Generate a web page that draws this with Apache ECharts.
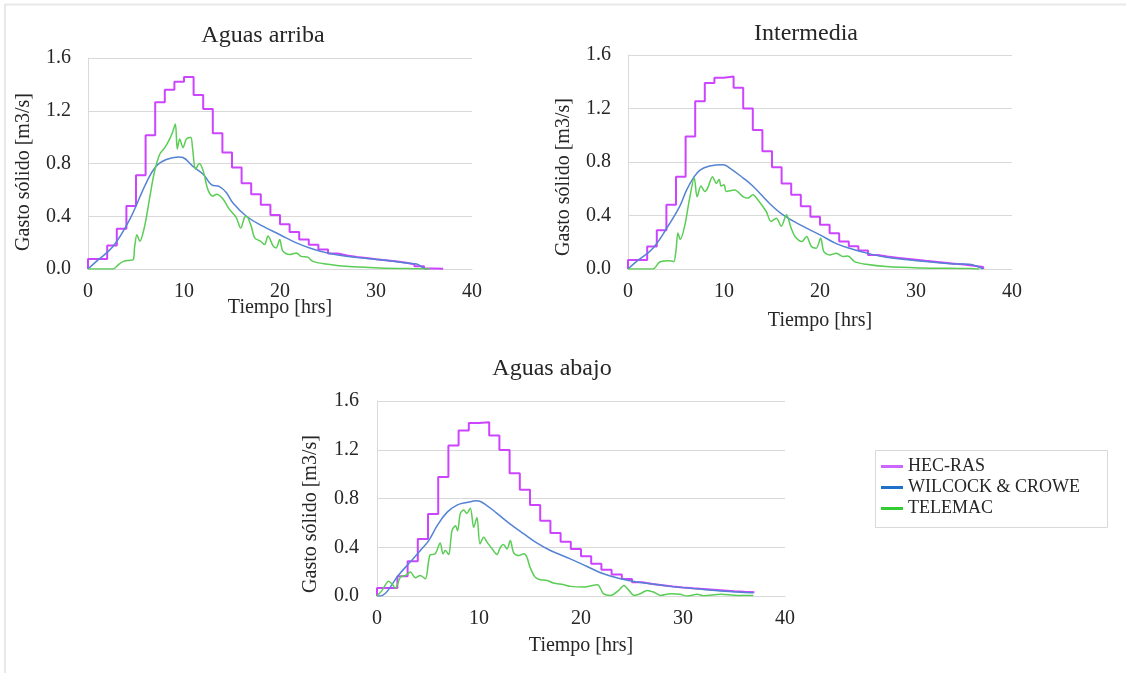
<!DOCTYPE html>
<html>
<head>
<meta charset="utf-8">
<script src="https://cdn.jsdelivr.net/npm/echarts@6/dist/echarts.min.js"></script>
<style>
html,body{margin:0;padding:0;background:#fff;}
#c{width:1126px;height:673px;}
</style>
</head>
<body>
<div id="c"></div>
<script>
// ---------- DATA ----------
const titles = ['Aguas arriba', 'Intermedia', 'Aguas abajo'];
const seriesNames = ['HEC-RAS', 'WILCOCK & CROWE', 'TELEMAC'];
const xTicks = [0, 10, 20, 30, 40];
const yTicks = [0.0, 0.4, 0.8, 1.2, 1.6];

// HEC-RAS (stepped, value held from t to next t)
const hecArribaT = [0,0,2,3,4,5,6,7,8,9,10,11,12,13,14,15,16,17,18,19,20,21,22,23,24,25,26,27,28,29,30,31,32,33,34,35,36,37];
const hecArribaQ = [0,0.076,0.178,0.305,0.477,0.71,1.015,1.264,1.36,1.42,1.455,1.32,1.213,1.03,0.883,0.77,0.65,0.566,0.487,0.41,0.34,0.28,0.223,0.183,0.147,0.117,0.102,0.092,0.083,0.074,0.066,0.058,0.05,0.036,0.02,0.004,0.001,0];
const hecInterT = [0,0,2,3,4,5,6,7,8,9,10,11,12,13,14,15,16,17,18,19,20,21,22,23,24,25,26,27,28,29,30,31,32,33,34,35,36,37];
const hecInterQ = [0,0.068,0.168,0.29,0.48,0.69,0.99,1.255,1.39,1.43,1.44,1.355,1.2,1.04,0.88,0.76,0.64,0.555,0.47,0.39,0.33,0.268,0.205,0.17,0.138,0.105,0.093,0.085,0.077,0.069,0.061,0.054,0.047,0.04,0.033,0.025,0.015,0];
const hecAbajoT = [0,0,2,3,4,5,6,7,8,9,10,11,12,13,14,15,16,17,18,19,20,21,22,23,24,25,26,27,28,29,30,31,32,33,34,35,36,37];
const hecAbajoQ = [0,0.065,0.163,0.286,0.468,0.672,0.977,1.235,1.358,1.42,1.426,1.317,1.197,1.007,0.871,0.746,0.618,0.517,0.446,0.386,0.327,0.264,0.215,0.177,0.139,0.112,0.098,0.088,0.078,0.07,0.063,0.057,0.051,0.045,0.039,0.034,0.03,0.027];

// WILCOCK & CROWE
const wcArribaT = [0,0.87,2.6,4.34,6.08,7.1,8.16,9.4,9.9,10.9,12,12.85,13.7,14.4,15.1,16.5,18.2,20,21.7,23.4,25.2,26.9,30.4,33.9,34.4,35,35.3];
const wcArribaQ = [0,0.058,0.17,0.375,0.655,0.78,0.83,0.85,0.845,0.78,0.718,0.64,0.625,0.58,0.5,0.4,0.325,0.26,0.198,0.152,0.117,0.096,0.071,0.04,0.033,0.005,0];
const wcInterT = [0,0.87,2.6,4.34,5.4,6.1,6.8,7.5,8.5,9.9,10.6,12,13,14.75,16.15,18.2,20,21.7,23.4,25.2,26.9,30.4,33.9,35.6,36.3,37];
const wcInterQ = [0,0.055,0.155,0.34,0.47,0.59,0.68,0.74,0.77,0.78,0.755,0.68,0.62,0.49,0.405,0.32,0.255,0.19,0.148,0.113,0.088,0.06,0.038,0.035,0.022,0];
const wcAbajoT = [0,0.33,0.8,1.3,2.1,3.27,4.25,5.07,5.9,6.86,7.84,8.8,9.8,10.8,11.76,13.07,14.4,15.7,17,18.95,20.6,22.2,23.86,25.5,28.8,32,35.3,36.9];
const wcAbajoQ = [0,0,0.02,0.073,0.17,0.28,0.373,0.455,0.577,0.686,0.746,0.767,0.781,0.74,0.678,0.59,0.509,0.433,0.373,0.305,0.242,0.182,0.141,0.114,0.079,0.054,0.033,0.027];

// TELEMAC
const telArribaT = [0,2.6,3.2,3.65,4.2,4.7,4.86,5.1,5.4,5.9,6.4,6.9,7.47,8,8.5,8.8,9.1,9.3,9.55,9.9,10.24,10.7,10.9,11.2,11.6,12,12.5,13,13.4,14.06,14.75,15.45,15.9,16.3,16.5,17,17.36,18,18.4,18.75,19.3,19.6,19.97,20.3,21,21.7,22.2,22.9,23.4,24.8,26.9,30.4,33.9,35.6];
const telArribaQ = [0,0,0.035,0.056,0.065,0.07,0.17,0.26,0.21,0.325,0.53,0.73,0.87,0.92,0.985,1.035,1.1,0.91,0.985,0.92,0.985,1.0,0.91,0.757,0.8,0.744,0.6,0.553,0.566,0.53,0.45,0.39,0.31,0.39,0.4,0.325,0.236,0.21,0.185,0.25,0.173,0.16,0.223,0.135,0.11,0.122,0.096,0.09,0.058,0.038,0.02,0.008,0.002,0];
const telInterT = [0,2.6,3.3,4.34,4.76,5,5.2,5.45,5.9,6.4,6.9,7.2,7.6,8,8.3,8.8,9.2,9.5,9.7,10,10.24,11.1,12,12.5,13,13.5,14.4,14.9,15.45,15.97,16.5,17,17.4,18.1,18.6,19.1,19.6,20.07,20.4,21,21.7,22.4,22.9,23.6,24.8,26.9,30.4,35.6,36.6];
const telInterQ = [0,0,0.052,0.062,0.055,0.14,0.27,0.22,0.32,0.52,0.68,0.54,0.62,0.58,0.605,0.69,0.64,0.67,0.62,0.63,0.58,0.59,0.54,0.53,0.555,0.52,0.43,0.355,0.38,0.32,0.405,0.305,0.243,0.205,0.243,0.168,0.155,0.23,0.13,0.105,0.118,0.093,0.098,0.055,0.035,0.018,0.008,0.003,0];
const telAbajoT = [0,0.5,1.14,1.47,1.8,2.3,2.8,3.27,3.76,4.25,4.74,5.2,5.7,6.2,6.47,6.7,7.03,7.35,7.7,7.9,8.17,8.5,8.8,9.15,9.48,9.8,10.1,10.46,10.8,11.3,11.76,12.1,12.4,12.75,13.07,13.4,13.9,14.4,14.7,15,15.5,16,16.7,17.3,18.3,18.95,20.3,21.6,22.2,22.9,23.7,24.2,24.7,25.2,25.8,26.5,27.1,27.8,28.8,29.7,30.4,31.4,32,33.7,35.3,36.9];
const telAbajoQ = [0,0.046,0.122,0.1,0.065,0.155,0.169,0.196,0.15,0.169,0.141,0.337,0.346,0.435,0.346,0.373,0.34,0.536,0.577,0.536,0.678,0.705,0.678,0.721,0.563,0.645,0.427,0.482,0.44,0.386,0.34,0.4,0.422,0.386,0.455,0.354,0.332,0.346,0.318,0.237,0.155,0.133,0.128,0.106,0.093,0.079,0.073,0.093,0.019,0.005,0.046,0.087,0.046,0.005,0.019,0.046,0.033,0.005,0.019,0.014,0,0.014,0.003,0.014,0.005,0.005];

// ---------- CHART ----------
const FONT = "'Liberation Serif','Times New Roman',serif";
const TXT = '#262626';
const GRIDC = '#d9d9d9';
const colHec = '#CC44FF', colWc = '#5583D3', colTel = '#5ACD55';

function zip(t, q) { return t.map((v, i) => [v, q[i]]); }

const grids = [
  {left: 88, top: 58, width: 384, height: 211},
  {left: 628, top: 55, width: 384, height: 214},
  {left: 377, top: 401, width: 408, height: 195}
];
const labelMargins = [17, 17, 18];

const xAxes = grids.map((g, i) => ({
  gridIndex: i, type: 'value', min: 0, max: 40, interval: 10,
  axisLine: {show: true, lineStyle: {color: GRIDC, width: 1}},
  axisTick: {show: false},
  splitLine: {show: false},
  axisLabel: {color: TXT, fontFamily: FONT, fontSize: 20, margin: 13,
    formatter: v => xTicks.includes(v) ? String(v) : ''}
}));
const yAxes = grids.map((g, i) => ({
  gridIndex: i, type: 'value', min: 0, max: 1.6, interval: 0.4,
  axisLine: {show: true, lineStyle: {color: GRIDC, width: 1}},
  axisTick: {show: false},
  splitLine: {show: true, lineStyle: {color: GRIDC, width: 1}},
  axisLabel: {color: TXT, fontFamily: FONT, fontSize: 20, margin: labelMargins[i],
    formatter: v => v.toFixed(1)}
}));

const sets = [
  [zip(hecArribaT, hecArribaQ), zip(wcArribaT, wcArribaQ), zip(telArribaT, telArribaQ)],
  [zip(hecInterT, hecInterQ), zip(wcInterT, wcInterQ), zip(telInterT, telInterQ)],
  [zip(hecAbajoT, hecAbajoQ), zip(wcAbajoT, wcAbajoQ), zip(telAbajoT, telAbajoQ)]
];
const series = [];
sets.forEach((s, i) => {
  series.push({name: seriesNames[0], type: 'line', xAxisIndex: i, yAxisIndex: i, data: s[0],
    step: 'end', showSymbol: false, lineStyle: {color: colHec, width: 2}, itemStyle: {color: colHec}, z: 2});
  series.push({name: seriesNames[1], type: 'line', xAxisIndex: i, yAxisIndex: i, data: s[1],
    smooth: 0.4, showSymbol: false, lineStyle: {color: colWc, width: 1.5}, itemStyle: {color: colWc}, z: 3});
  series.push({name: seriesNames[2], type: 'line', xAxisIndex: i, yAxisIndex: i, data: s[2],
    smooth: 0.3, showSymbol: false, lineStyle: {color: colTel, width: 1.5}, itemStyle: {color: colTel}, z: 4});
});

const titlePos = [[263, 36], [806, 34], [552, 369]];
const xNamePos = [[280, 308], [820, 321], [581, 646]];
const yNamePos = [[24, 172], [564, 177], [311, 514]];

const graphic = [
  {type: 'line', shape: {x1: 5, y1: 4.5, x2: 1126, y2: 4.5}, style: {stroke: '#e8e8e8', lineWidth: 2}, silent: true},
  {type: 'line', shape: {x1: 5, y1: 4, x2: 5, y2: 673}, style: {stroke: '#e8e8e8', lineWidth: 2}, silent: true},
  {type: 'rect', shape: {x: 875.5, y: 450.5, width: 232, height: 77}, style: {fill: '#fff', stroke: '#d9d9d9', lineWidth: 1}, z: -1, silent: true}
];
titles.forEach((t, i) => graphic.push({type: 'text', x: titlePos[i][0], y: titlePos[i][1],
  style: {text: t, font: '24px ' + FONT, fill: TXT, textAlign: 'center', textVerticalAlign: 'middle'}}));
xNamePos.forEach(p => graphic.push({type: 'text', x: p[0], y: p[1], z: 10,
  style: {text: 'Tiempo [hrs]', font: '20px ' + FONT, fill: TXT, textAlign: 'center', textVerticalAlign: 'middle'}}));
yNamePos.forEach(p => graphic.push({type: 'text', x: p[0], y: p[1], rotation: Math.PI / 2,
  style: {text: 'Gasto sólido [m3/s]', font: '20px ' + FONT, fill: TXT, textAlign: 'center', textVerticalAlign: 'middle'}}));

const chart = echarts.init(document.getElementById('c'), null, {renderer: 'canvas'});
chart.setOption({
  backgroundColor: '#fff',
  animation: false,
  grid: grids,
  xAxis: xAxes,
  yAxis: yAxes,
  series: series,
  graphic: graphic,
  legend: {
    orient: 'vertical', left: 881, top: 456, padding: 0, itemGap: 0,
    itemWidth: 22, itemHeight: 3,
    textStyle: {fontFamily: FONT, fontSize: 18, color: TXT, lineHeight: 21},
    data: [
      {name: seriesNames[0], icon: 'rect', itemStyle: {color: '#CC66FF'}},
      {name: seriesNames[1], icon: 'rect', itemStyle: {color: '#1F70C8'}},
      {name: seriesNames[2], icon: 'rect', itemStyle: {color: '#33CC33'}}
    ]
  }
});
</script>
</body>
</html>
